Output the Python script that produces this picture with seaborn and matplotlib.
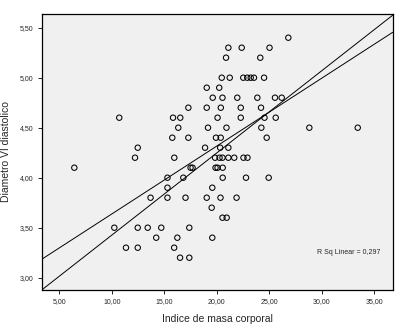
import matplotlib
matplotlib.use("Agg")
import matplotlib.pyplot as plt
import seaborn as sns
import pandas as pd
from matplotlib.ticker import FixedLocator, FuncFormatter

# --- data ---
bmi = [26.81,
       21.10, 22.37, 25.02,
       20.88, 24.14,
       20.47, 21.23, 22.52, 22.90, 23.23, 23.54, 24.50,
       19.04, 20.23,
       19.61, 20.54, 21.95, 23.86, 25.54, 26.18,
       17.29, 19.04, 20.38, 22.28, 24.21,
       10.71, 15.83, 16.52, 20.07, 22.28, 24.54, 25.61,
       16.33, 19.16, 20.92, 24.24, 28.81, 33.42,
       15.76, 17.29, 19.92, 20.37, 24.75,
       12.47, 18.88, 20.32, 21.10,
       12.21, 15.95, 19.83, 20.26, 20.54, 21.10, 21.66, 22.54, 22.92,
       6.43, 17.50, 17.69, 19.88, 20.07, 20.56,
       15.30, 16.81, 20.56, 22.78, 24.94,
       15.30, 19.57,
       13.69, 15.30, 17.02, 19.04, 20.35, 21.88,
       19.51,
       20.54, 20.94,
       10.24, 12.47, 13.42, 14.71, 17.38,
       14.23, 16.24, 19.57,
       11.35, 12.47, 15.94,
       16.50, 17.38]
dvi = ([5.40] + [5.30] * 3 + [5.20] * 2 + [5.00] * 7 + [4.90] * 2 + [4.80] * 6 +
       [4.70] * 5 + [4.60] * 7 + [4.50] * 6 + [4.40] * 5 + [4.30] * 4 +
       [4.20] * 9 + [4.10] * 6 + [4.00] * 5 + [3.90] * 2 + [3.80] * 6 +
       [3.70] + [3.60] * 2 + [3.50] * 5 + [3.40] * 3 + [3.30] * 3 + [3.20] * 2)

line1_x = [3.324, 36.75]
line1_y = [2.877, 5.625]
line2_x = [3.324, 36.75]
line2_y = [3.184, 5.454]

x_ticks = [5, 10, 15, 20, 25, 30, 35]
y_ticks = [3.0, 3.5, 4.0, 4.5, 5.0, 5.5]
x_label = "Indice de masa corporal"
y_label = "Diametro VI diastolico"
r2_text = "R Sq Linear = 0,297"

df = pd.DataFrame({"bmi": bmi, "dvi": dvi})

sns.set_style("ticks")
plt.rcParams["font.family"] = ["Liberation Sans", "DejaVu Sans"]

fig = plt.figure(figsize=(4.1, 3.3), dpi=100)
ax = fig.add_axes([41.7 / 410, 1 - 290 / 330, (392.7 - 41.7) / 410, (290 - 14) / 330])
ax.set_facecolor("#F0F0F0")

sns.lineplot(x=line1_x, y=line1_y, ax=ax, color="black", linewidth=0.7)
sns.lineplot(x=line2_x, y=line2_y, ax=ax, color="black", linewidth=0.7)
sns.scatterplot(data=df, x="bmi", y="dvi", ax=ax, marker="o", s=15,
                facecolor="none", edgecolor="black", linewidth=0.75, zorder=3)

ax.set_xlim(3.324, 36.75)
ax.set_ylim(2.877, 5.637)
ax.xaxis.set_major_locator(FixedLocator(x_ticks))
ax.yaxis.set_major_locator(FixedLocator(y_ticks))
fmt = FuncFormatter(lambda v, p: f"{v:.2f}".replace(".", ","))
ax.xaxis.set_major_formatter(fmt)
ax.yaxis.set_major_formatter(fmt)
ax.tick_params(axis="both", labelsize=5, length=3, width=0.6, color="black", pad=3)

for s in ax.spines.values():
    s.set_visible(True)
    s.set_color("black")
    s.set_linewidth(0.9)

ax.set_xlabel(x_label, fontsize=7.5, labelpad=6)
ax.set_ylabel(y_label, fontsize=7.5, labelpad=6)

ax.text(29.5, 3.254, r2_text, fontsize=5, ha="left", va="center")

fig.savefig("out.png", dpi=100)
